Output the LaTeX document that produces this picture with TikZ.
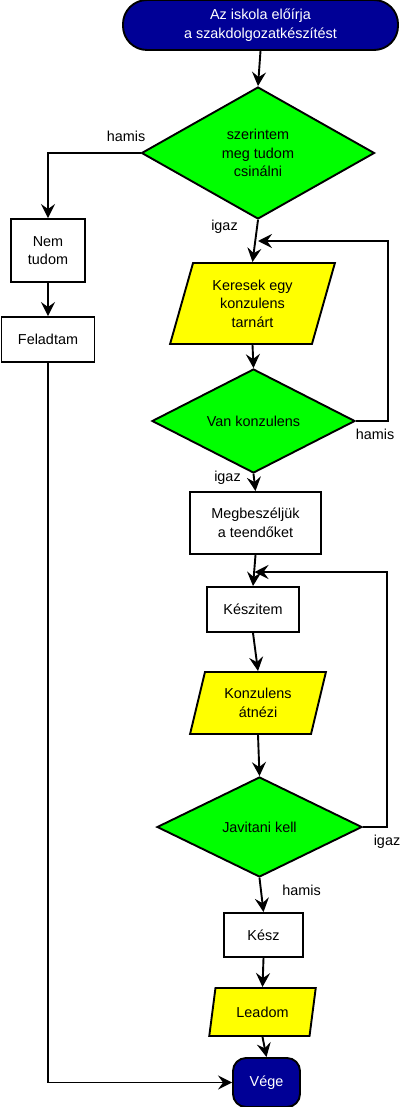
\documentclass[tikz,border=0pt]{standalone}
\usepackage{fontspec}
\setmainfont{Liberation Sans}
\usetikzlibrary{shapes.geometric,arrows.meta}
\definecolor{navyfill}{RGB}{0,0,150}
\definecolor{greenfill}{RGB}{0,255,0}
\definecolor{yellowfill}{RGB}{255,255,0}
\begin{document}
\begin{tikzpicture}[x=1pt,y=-1pt,
  every node/.style={font=\fontsize{14.4}{18.5}\selectfont, align=center},
  base/.style={draw=black, line width=1.9pt},
  terminal/.style={base, fill=navyfill, text=white, rounded corners=24pt, inner sep=0pt},
  decision/.style={base, fill=greenfill, diamond, inner sep=0pt},
  io/.style={base, fill=yellowfill, trapezium, trapezium left angle=72, trapezium right angle=108, trapezium stretches=true, inner sep=0pt},
  process/.style={base, fill=white, rectangle, inner sep=0pt},
  conn/.style={line width=1.9pt, draw=black},
  arr/.style={conn, -{Stealth[length=14pt,width=14pt,inset=5pt]}},
  lbl/.style={inner sep=0pt}
]
\useasboundingbox (0,0) rectangle (400,1107);

% nodes
\node[terminal, minimum width=275pt, minimum height=50pt] (start) at (260.5,25) {Az iskola előírja\\a szakdolgozatkészítést};
\node[decision, minimum width=233pt, minimum height=132pt] (d1) at (258,153) {szerintem\\meg tudom\\csinálni};
\node[process, minimum width=74pt, minimum height=63pt] (nem) at (48,250.5) {Nem\\tudom};
\node[process, minimum width=93pt, minimum height=45pt] (fel) at (48,339.5) {Feladtam};
\node[io, minimum width=165pt, minimum height=81pt] (p1) at (252.5,303.5) {Keresek egy\\konzulens\\tarnárt};
\node[decision, minimum width=203pt, minimum height=92pt] (d2) at (253.5,421) {Van konzulens};
\node[process, minimum width=131pt, minimum height=62pt] (m) at (255.5,523) {Megbeszéljük\\a teendőket};
\node[process, minimum width=92pt, minimum height=45pt] (k) at (253,609.5) {Készitem};
\node[io, minimum width=136pt, minimum height=62pt] (p2) at (258,703) {Konzulens\\átnézi};
\node[decision, minimum width=205pt, minimum height=100pt] (d3) at (259.5,827) {Javitani kell};
\node[process, minimum width=79pt, minimum height=44pt] (kesz) at (263.5,935) {Kész};
\node[io, minimum width=107pt, minimum height=48pt] (lead) at (262.5,1012) {Leadom};
\node[terminal, rounded corners=13pt, minimum width=67pt, minimum height=49pt] (vege) at (266.5,1082.5) {Vége};

% junction coordinates
\coordinate (j1) at (258,241);
\coordinate (j2) at (254.5,572);

% connectors
\draw[arr] (start.south) -- (d1.north);
\draw[arr] (d1.west) -- (48,153) -- (nem.north);
\draw[arr] (nem.south) -- (fel.north);
\draw[arr] (fel.south) -- (48,1082.5) -- (vege.west);
\draw[arr] (d1.south) -- (p1.north);
\draw[arr] (p1.south) -- (d2.north);
\draw[arr] (d2.east) -- (388,421) -- (388,241) -- (j1);
\draw[arr] (d2.south) -- (m.north);
\draw[arr] (m.south) -- (k.north);
\draw[arr] (k.south) -- (p2.north);
\draw[arr] (p2.south) -- (d3.north);
\draw[arr] (d3.east) -- (387,827) -- (387,572) -- (j2);
\draw[arr] (d3.south) -- (kesz.north);
\draw[arr] (kesz.south) -- (lead.north);
\draw[arr] (lead.south) -- (vege.north);

% labels
\node[lbl] (l1) at (126,136) {hamis};
\node[lbl] (l2) at (224.5,227) {igaz};
\node[lbl] (l3) at (375,434) {hamis};
\node[lbl] (l4) at (227.5,478) {igaz};
\node[lbl] (l5) at (387,842) {igaz};
\node[lbl] (l6) at (301.5,890) {hamis};
\end{tikzpicture}
\end{document}
